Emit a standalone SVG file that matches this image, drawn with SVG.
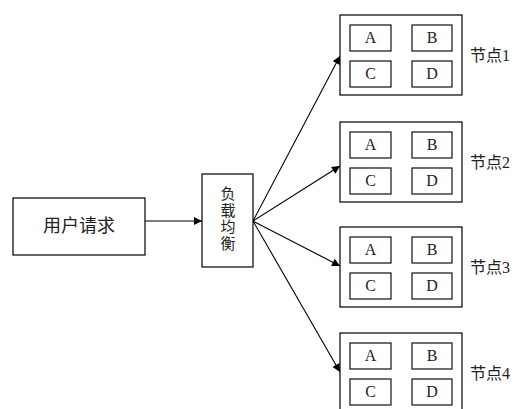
<svg xmlns="http://www.w3.org/2000/svg" width="520" height="409" viewBox="0 0 520 409">
<style>
.box{fill:#fff;stroke:#000;stroke-width:1.2}
.in{fill:#fff;stroke:#222;stroke-width:1.3}
.cn{font-family:"Noto Sans CJK SC","Noto Sans CJK JP",sans-serif;fill:#222}
.lt{font-family:"Liberation Serif",serif;font-size:16px;fill:#222;text-anchor:middle}
.lbl{font-family:"Liberation Serif","Noto Sans CJK SC",serif;font-size:16px;fill:#222}
.ln{stroke:#000;stroke-width:1.1;fill:none;marker-end:url(#ah)}
</style>
<defs>
<marker id="ah" viewBox="0 0 10 10" refX="10" refY="5" markerWidth="10" markerHeight="8" markerUnits="userSpaceOnUse" orient="auto">
<path d="M0,0 L10,5 L0,10 z" fill="#000"/>
</marker>
<g id="cell">
<rect class="box" x="0" y="0" width="122" height="80"/>
<rect class="in" x="10" y="10" width="41" height="26"/>
<rect class="in" x="72" y="10" width="40" height="26"/>
<rect class="in" x="10" y="46" width="41" height="26"/>
<rect class="in" x="72" y="46" width="40" height="26"/>
</g>
</defs>
<rect width="520" height="409" fill="#fff"/>
<g id="connectors">
<line class="ln" x1="145" y1="221" x2="202" y2="221"/>
<line class="ln" x1="253" y1="221" x2="340" y2="56"/>
<line class="ln" x1="253" y1="221" x2="340" y2="166"/>
<line class="ln" x1="253" y1="221" x2="340" y2="266"/>
<line class="ln" x1="253" y1="221" x2="340" y2="372"/>
</g>
<g id="user">
<rect class="box" x="13" y="198" width="132" height="57"/>
<text class="cn" x="79" y="232" font-size="18" text-anchor="middle">用户请求</text>
</g>
<g id="lb">
<rect class="box" x="202" y="174" width="51" height="93"/>
<text class="cn" x="228" y="219" font-size="15" text-anchor="middle" letter-spacing="1.5" style="writing-mode:vertical-rl;letter-spacing:1.5px">负载均衡</text>
</g>
<g id="node1">
<use href="#cell" x="340" y="15"/>
<text class="lt" x="370.5" y="43">A</text><text class="lt" x="432" y="43">B</text>
<text class="lt" x="370.5" y="79">C</text><text class="lt" x="432" y="79">D</text>
<text class="lbl" x="470" y="61">节点1</text>
</g>
<g id="node2">
<use href="#cell" x="340" y="122"/>
<text class="lt" x="370.5" y="150">A</text><text class="lt" x="432" y="150">B</text>
<text class="lt" x="370.5" y="186">C</text><text class="lt" x="432" y="186">D</text>
<text class="lbl" x="470" y="168">节点2</text>
</g>
<g id="node3">
<use href="#cell" x="340" y="227"/>
<text class="lt" x="370.5" y="255">A</text><text class="lt" x="432" y="255">B</text>
<text class="lt" x="370.5" y="291">C</text><text class="lt" x="432" y="291">D</text>
<text class="lbl" x="470" y="273">节点3</text>
</g>
<g id="node4">
<use href="#cell" x="340" y="333"/>
<text class="lt" x="370.5" y="361">A</text><text class="lt" x="432" y="361">B</text>
<text class="lt" x="370.5" y="397">C</text><text class="lt" x="432" y="397">D</text>
<text class="lbl" x="470" y="379">节点4</text>
</g>
</svg>
